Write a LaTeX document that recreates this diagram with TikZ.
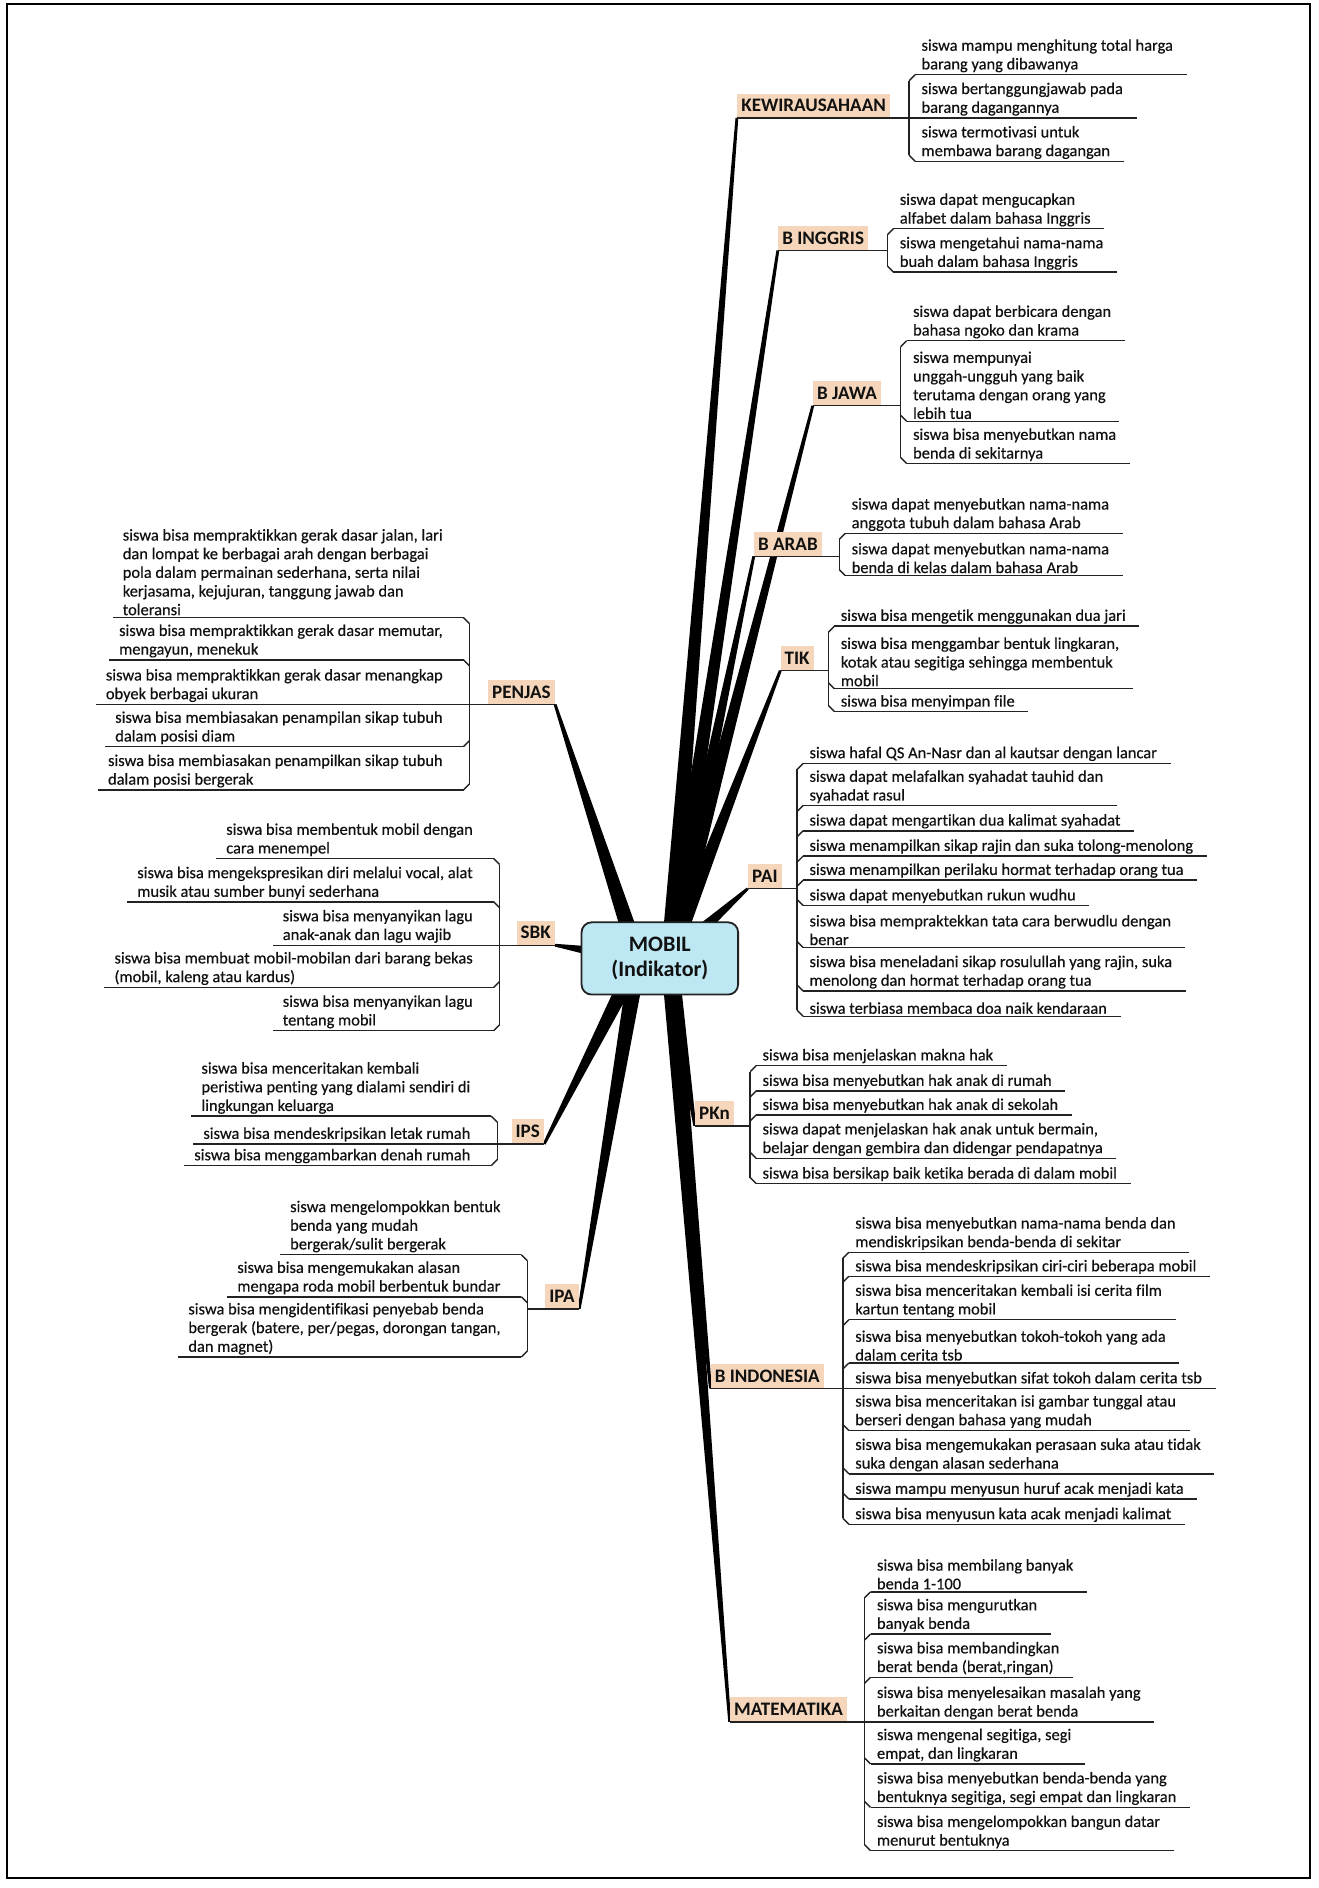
\documentclass[tikz,border=0pt]{standalone}
\usepackage{fontspec}
\setmainfont{Carlito}[Ligatures=CommonOff]
\newfontfamily\itemfam{Carlito}[Ligatures=CommonOff, FakeBold=0.4]
\usetikzlibrary{calc}
\definecolor{peach}{HTML}{F5D6BA}
\definecolor{cyanbox}{HTML}{BDE7F3}
\definecolor{txt}{HTML}{111111}
\definecolor{lin}{HTML}{222222}
\newcommand{\ifnt}{\itemfam\fontsize{8.2pt}{9.3pt}\selectfont}
\newcommand{\cfnt}{\fontsize{9.5pt}{11pt}\selectfont\bfseries}
\newcommand{\hfnt}{\fontsize{11pt}{12.5pt}\selectfont\bfseries}
% right-side child: name, trunk x, category y, underline y, text
\newcommand{\ritem}[5]{%
  \node[item, anchor=south west] (#1) at (#2+5,#4) {#5};
  \draw[uline] (#2+5,#4) -- ($(#1.south east)+(6,0)$);
  \ifdim #4pt<#3pt \draw[uline] (#2+5,#4) -- (#2,#4+5);\fi
  \ifdim #4pt>#3pt \draw[uline] (#2,#4-5) -- (#2+5,#4);\fi
}
% left-side child
\newcommand{\litem}[5]{%
  \node[item, anchor=south east] (#1) at (#2-17,#4) {#5};
  \draw[uline] (#2-5,#4) -- ($(#1.south west)+(-3,0)$);
  \ifdim #4pt<#3pt \draw[uline] (#2-5,#4) -- (#2,#4+5);\fi
  \ifdim #4pt>#3pt \draw[uline] (#2,#4-5) -- (#2-5,#4);\fi
}
\newcommand{\trunk}[3]{\draw[uline] (#1,#2+5) -- (#1,#3-5);}
\newcommand{\branch}[2]{\fill[black] ($(#1)!4.3pt!90:(#2)$) -- ($(#2)!0.7pt!-90:(#1)$) -- ($(#2)!0.7pt!90:(#1)$) -- ($(#1)!4.3pt!-90:(#2)$) -- cycle;}

\begin{document}
\begin{tikzpicture}[x=0.6pt,y=-0.6pt,
  item/.style={font=\ifnt, align=left, inner xsep=3pt, inner ysep=1pt, text=txt},
  cat/.style={font=\cfnt, fill=peach, inner xsep=2pt, inner ysep=2pt, minimum height=12pt, text=txt},
  uline/.style={draw=lin, line width=0.7pt},
  hub/.style={font=\hfnt, align=center, fill=cyanbox, draw=lin, line width=0.9pt, rounded corners=5pt, minimum width=78pt, minimum height=36pt, text=txt}]
\useasboundingbox (0,0) rectangle (1095,1568);
\fill[white] (0,0) rectangle (1095,1568);
\draw[line width=1pt, black] (6,3) rectangle (1088,1560);

%% connection points of the subject labels
\coordinate (cR) at (556,796);
\coordinate (cL) at (530,796);
\coordinate (kewE) at (612,98);
\coordinate (bingE) at (646,208);
\coordinate (bjwE) at (675,337);
\coordinate (barE) at (626,462);
\coordinate (tikE) at (648,557);
\coordinate (paiE) at (621,738);
\coordinate (pknE) at (577,935);
\coordinate (bindE) at (590,1153);
\coordinate (matE) at (606,1430);
\coordinate (pjE) at (461,585);
\coordinate (sbkE) at (461,785);
\coordinate (ipsE) at (452,950);
\coordinate (ipaE) at (481,1087);

%% branches
\branch{cR}{kewE}
\branch{cR}{bingE}
\branch{cR}{bjwE}
\branch{cR}{barE}
\branch{cR}{tikE}
\branch{cR}{paiE}
\branch{cR}{pknE}
\branch{cR}{bindE}
\branch{cR}{matE}
\branch{cL}{pjE}
\branch{cL}{sbkE}
\branch{cL}{ipsE}
\branch{cL}{ipaE}

%% KEWIRAUSAHAAN
\node[cat, anchor=south west] (kew) at (kewE) {KEWIRAUSAHAAN};
\ritem{k1}{755}{98}{62}{siswa mampu menghitung total harga\\barang yang dibawanya}
\ritem{k2}{755}{98}{98}{siswa bertanggungjawab pada\\barang dagangannya}
\ritem{k3}{755}{98}{134}{siswa termotivasi untuk\\membawa barang dagangan}
\trunk{755}{62}{134}
\draw[uline] (kew.south west) -- (760,98);

%% B INGGRIS
\node[cat, anchor=south west] (bing) at (bingE) {B INGGRIS};
\ritem{bi1}{737}{208}{190}{siswa dapat mengucapkan\\alfabet dalam bahasa Inggris}
\ritem{bi2}{737}{208}{226}{siswa mengetahui nama-nama\\buah dalam bahasa Inggris}
\trunk{737}{190}{226}
\draw[uline] (bing.south west) -- (737,208);

%% B JAWA
\node[cat, anchor=south west] (bjw) at (bjwE) {B JAWA};
\ritem{bj1}{748}{337}{283}{siswa dapat berbicara dengan\\bahasa ngoko dan krama}
\ritem{bj2}{748}{337}{350}{siswa mempunyai\\unggah-ungguh yang baik\\terutama dengan orang yang\\lebih tua}
\ritem{bj3}{748}{337}{385}{siswa bisa menyebutkan nama\\benda di sekitarnya}
\trunk{748}{283}{385}
\draw[uline] (bjw.south west) -- (748,337);

%% B ARAB
\node[cat, anchor=south west] (bar) at (barE) {B ARAB};
\ritem{ba1}{697}{462}{443}{siswa dapat menyebutkan nama-nama\\anggota tubuh dalam bahasa Arab}
\ritem{ba2}{697}{462}{478}{siswa dapat menyebutkan nama-nama\\benda di kelas dalam bahasa Arab}
\trunk{697}{443}{478}
\draw[uline] (bar.south west) -- (697,462);

%% TIK
\node[cat, anchor=south west] (tik) at (tikE) {TIK};
\ritem{t1}{688}{557}{520}{siswa bisa mengetik menggunakan dua jari}
\ritem{t2}{688}{557}{572}{siswa bisa menggambar bentuk lingkaran,\\kotak atau segitiga sehingga membentuk\\mobil}
\ritem{t3}{688}{557}{591}{siswa bisa menyimpan file}
\trunk{688}{520}{591}
\draw[uline] (tik.south west) -- (688,557);

%% PAI
\node[cat, anchor=south west] (pai) at (paiE) {PAI};
\ritem{p1}{662}{738}{634}{siswa hafal QS An-Nasr dan al kautsar dengan lancar}
\ritem{p2}{662}{738}{669}{siswa dapat melafalkan syahadat tauhid dan\\syahadat rasul}
\ritem{p3}{662}{738}{690}{siswa dapat mengartikan dua kalimat syahadat}
\ritem{p4}{662}{738}{711}{siswa menampilkan sikap rajin dan suka tolong-menolong}
\ritem{p5}{662}{738}{731}{siswa menampilkan perilaku hormat terhadap orang tua}
\ritem{p6}{662}{738}{752}{siswa dapat menyebutkan rukun wudhu}
\ritem{p7}{662}{738}{787}{siswa bisa mempraktekkan tata cara berwudlu dengan\\benar}
\ritem{p8}{662}{738}{823}{siswa bisa meneladani sikap rosulullah yang rajin, suka\\menolong dan hormat terhadap orang tua}
\ritem{p9}{662}{738}{844}{siswa terbiasa membaca doa naik kendaraan}
\trunk{662}{634}{844}
\draw[uline] (pai.south west) -- (662,738);

%% PKn
\node[cat, anchor=south west] (pkn) at (pknE) {PKn};
\ritem{n1}{623}{935}{885}{siswa bisa menjelaskan makna hak}
\ritem{n2}{623}{935}{906}{siswa bisa menyebutkan hak anak di rumah}
\ritem{n3}{623}{935}{926}{siswa bisa menyebutkan hak anak di sekolah}
\ritem{n4}{623}{935}{962}{siswa dapat menjelaskan hak anak untuk bermain,\\belajar dengan gembira dan didengar pendapatnya}
\ritem{n5}{623}{935}{983}{siswa bisa bersikap baik ketika berada di dalam mobil}
\trunk{623}{885}{983}
\draw[uline] (pkn.south west) -- (623,935);

%% B INDONESIA
\node[cat, anchor=south west] (bind) at (bindE) {B INDONESIA};
\ritem{d1}{700}{1153}{1040}{siswa bisa menyebutkan nama-nama benda dan\\mendiskripsikan benda-benda di sekitar}
\ritem{d2}{700}{1153}{1060}{siswa bisa mendeskripsikan ciri-ciri beberapa mobil}
\ritem{d3}{700}{1153}{1096}{siswa bisa menceritakan kembali isi cerita film\\kartun tentang mobil}
\ritem{d4}{700}{1153}{1132}{siswa bisa menyebutkan tokoh-tokoh yang ada\\dalam cerita tsb}
\ritem{d5}{700}{1153}{1153}{siswa bisa menyebutkan sifat tokoh dalam cerita tsb}
\ritem{d6}{700}{1153}{1188}{siswa bisa menceritakan isi gambar tunggal atau\\berseri dengan bahasa yang mudah}
\ritem{d7}{700}{1153}{1224}{siswa bisa mengemukakan perasaan suka atau tidak\\suka dengan alasan sederhana}
\ritem{d8}{700}{1153}{1245}{siswa mampu menyusun huruf acak menjadi kata}
\ritem{d9}{700}{1153}{1266}{siswa bisa menyusun kata acak menjadi kalimat}
\trunk{700}{1040}{1266}
\draw[uline] (bind.south west) -- (705,1153);

%% MATEMATIKA
\node[cat, anchor=south west] (mat) at (matE) {MATEMATIKA};
\ritem{m1}{718}{1430}{1322}{siswa bisa membilang banyak\\benda 1-100}
\ritem{m2}{718}{1430}{1357}{siswa bisa mengurutkan\\banyak benda}
\ritem{m3}{718}{1430}{1393}{siswa bisa membandingkan\\berat benda (berat,ringan)}
\ritem{m4}{718}{1430}{1430}{siswa bisa menyelesaikan masalah yang\\berkaitan dengan berat benda}
\ritem{m5}{718}{1430}{1465}{siswa mengenal segitiga, segi\\empat, dan lingkaran}
\ritem{m6}{718}{1430}{1501}{siswa bisa menyebutkan benda-benda yang\\bentuknya segitiga, segi empat dan lingkaran}
\ritem{m7}{718}{1430}{1537}{siswa bisa mengelompokkan bangun datar\\menurut bentuknya}
\trunk{718}{1322}{1537}
\draw[uline] (mat.south west) -- (723,1430);

%% PENJAS
\node[cat, anchor=south east] (pj) at (pjE) {PENJAS};
\litem{j1}{390}{585}{513}{siswa bisa mempraktikkan gerak dasar jalan, lari\\dan lompat ke berbagai arah dengan berbagai\\pola dalam permainan sederhana, serta nilai\\kerjasama, kejujuran, tanggung jawab dan\\toleransi}
\litem{j2}{390}{585}{548}{siswa bisa mempraktikkan gerak dasar memutar,\\mengayun, menekuk}
\litem{j3}{390}{585}{585}{siswa bisa mempraktikkan gerak dasar menangkap\\obyek berbagai ukuran}
\litem{j4}{390}{585}{620}{siswa bisa membiasakan penampilan sikap tubuh\\dalam posisi diam}
\litem{j5}{390}{585}{656}{siswa bisa membiasakan penampilkan sikap tubuh\\dalam posisi bergerak}
\trunk{390}{513}{656}
\draw[uline] (pj.south east) -- (385,585);

%% SBK
\node[cat, anchor=south east] (sbk) at (sbkE) {SBK};
\litem{s1}{415}{785}{713}{siswa bisa membentuk mobil dengan\\cara menempel}
\litem{s2}{415}{785}{749}{siswa bisa mengekspresikan diri melalui vocal, alat\\musik atau sumber bunyi sederhana}
\litem{s3}{415}{785}{785}{siswa bisa menyanyikan lagu\\anak-anak dan lagu wajib}
\litem{s4}{415}{785}{820}{siswa bisa membuat mobil-mobilan dari barang bekas\\(mobil, kaleng atau kardus)}
\litem{s5}{415}{785}{856}{siswa bisa menyanyikan lagu\\tentang mobil}
\trunk{415}{713}{856}
\draw[uline] (sbk.south east) -- (410,785);

%% IPS
\node[cat, anchor=south east] (ips) at (ipsE) {IPS};
\litem{i1}{413}{950}{927}{siswa bisa menceritakan kembali\\peristiwa penting yang dialami sendiri di\\lingkungan keluarga}
\litem{i2}{413}{950}{950}{siswa bisa mendeskripsikan letak rumah}
\litem{i3}{413}{950}{968}{siswa bisa menggambarkan denah rumah}
\trunk{413}{927}{968}
\draw[uline] (ips.south east) -- (408,950);

%% IPA
\node[cat, anchor=south east] (ipa) at (ipaE) {IPA};
\litem{a1}{438}{1087}{1042}{siswa mengelompokkan bentuk\\benda yang mudah\\bergerak/sulit bergerak}
\litem{a2}{438}{1087}{1077}{siswa bisa mengemukakan alasan\\mengapa roda mobil berbentuk bundar}
\litem{a3}{438}{1087}{1127}{siswa bisa mengidentifikasi penyebab benda\\bergerak (batere, per/pegas,  dorongan tangan,\\dan magnet)}
\trunk{438}{1042}{1127}
\draw[uline] (ipa.south east) -- (438,1087);

%% centre
\node[hub] (ctr) at (548,796) {MOBIL\\(Indikator)};
\end{tikzpicture}
\end{document}
